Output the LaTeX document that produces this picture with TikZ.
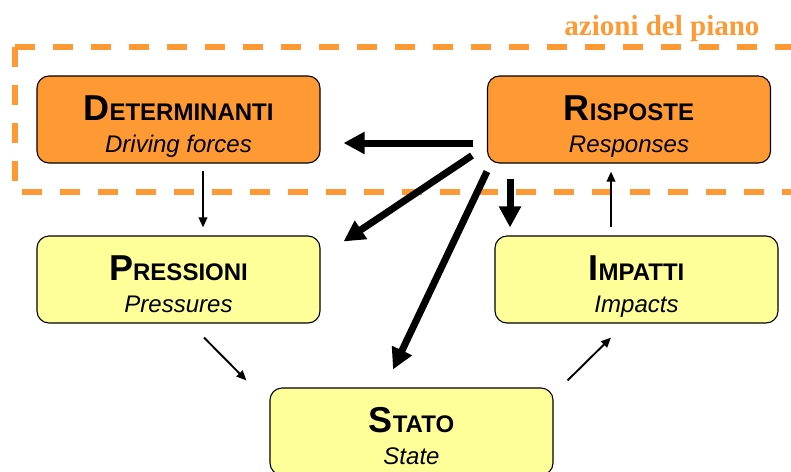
\documentclass[tikz,border=0pt]{standalone}
\usepackage{fontspec}
\setmainfont{Liberation Sans}
\newfontfamily\pianofont{Liberation Serif}
\usetikzlibrary{arrows.meta}
\definecolor{arancio}{HTML}{FF9933}
\definecolor{giallo}{HTML}{FFFF99}
\newcommand{\voce}[3]{\rule{0pt}{38pt}\textbf{{\fontsize{36}{36}\selectfont #1}{\fontsize{24}{24}\selectfont #2}}\\\textit{#3}\rule[-5pt]{0pt}{5pt}}
\begin{document}
\begin{tikzpicture}[x=1pt,y=-1pt,
  casella/.style={draw=black, line width=1.1pt, rounded corners=12pt, minimum width=283pt, minimum height=87pt, inner sep=0pt, align=center, font=\fontsize{24}{32}\selectfont},
  spesso/.style={-{Triangle[length=21pt,width=21pt]}, line width=7pt},
  sottile/.style={-{Triangle[length=10pt,width=8.5pt]}, line width=1.9pt}]

\useasboundingbox (0,0) rectangle (791,471);

% azioni del piano
\draw[arancio, line width=5.5pt, dash pattern=on 20pt off 18pt] (15,47) rectangle (830,192);
\node[anchor=base east, text=arancio, font=\pianofont\bfseries\fontsize{29}{29}\selectfont] (azioni) at (763,35) {azioni del piano};

\node[casella, fill=arancio] (det) at (178.5,119.5) {\voce{D}{ETERMINANTI}{Driving forces}};
\node[casella, fill=arancio] (ris) at (629,119.5) {\voce{R}{ISPOSTE}{Responses}};
\node[casella, fill=giallo] (pre) at (178.5,279.5) {\voce{P}{RESSIONI}{Pressures}};
\node[casella, fill=giallo] (imp) at (636.5,279.5) {\voce{I}{MPATTI}{Impacts}};
\node[casella, fill=giallo] (sta) at (411.5,431.5) {\voce{S}{TATO}{State}};

\draw[sottile] ([shift={(24.5,7)}]det.south) -- ([shift={(24.5,-8)}]pre.north);
\draw[spesso] ([shift={(-14,23.5)}]ris.west) -- ([shift={(23,23.5)}]det.east);
\draw[spesso] ([shift={(-15,-8)}]ris.south west) -- ([shift={(23,6)}]pre.north east);
\draw[spesso] ([shift={(0,8)}]ris.south west) -- ([shift={(-18.5,-18)}]sta.north);
\draw[spesso] ([shift={(-119,15)}]ris.south) -- ([shift={(-126.5,-8)}]imp.north);
\draw[sottile] ([shift={(-25.5,-8)}]imp.north) -- ([shift={(-18,8)}]ris.south);
\draw[sottile] ([shift={(25.5,14)}]pre.south) -- ([shift={(-23,-7)}]sta.north west);
\draw[sottile] ([shift={(14,-7)}]sta.north east) -- ([shift={(-25.5,14)}]imp.south);

\end{tikzpicture}
\end{document}
